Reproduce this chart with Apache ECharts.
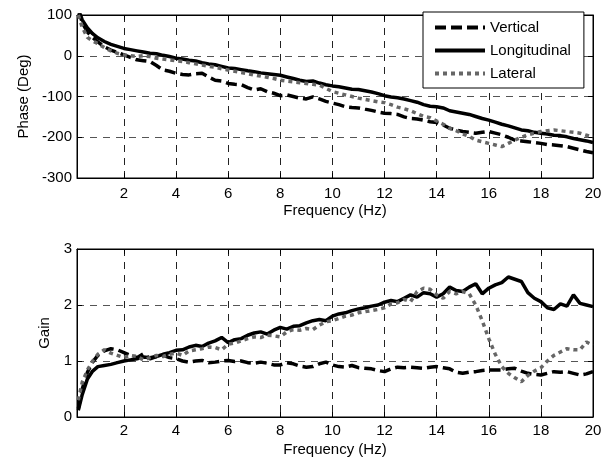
<!DOCTYPE html>
<html>
<head>
<meta charset="utf-8">
<script src="https://cdn.jsdelivr.net/npm/echarts@6/dist/echarts.min.js"></script>
<style>
  html, body { margin: 0; padding: 0; background: #fff; }
  #chart { width: 614px; height: 459px; }
</style>
</head>
<body>
<div id="chart"></div>
<script>
// frequency samples (Hz)
var freq = [0.25, 0.4, 0.6, 0.8, 1.0, 1.25, 1.5, 1.75,
  2.0, 2.25, 2.5, 2.75, 3.0, 3.25, 3.5, 3.75, 4.0, 4.25, 4.5, 4.75,
  5.0, 5.25, 5.5, 5.75, 6.0, 6.25, 6.5, 6.75, 7.0, 7.25, 7.5, 7.75,
  8.0, 8.25, 8.5, 8.75, 9.0, 9.25, 9.5, 9.75, 10.0, 10.25, 10.5, 10.75,
  11.0, 11.25, 11.5, 11.75, 12.0, 12.25, 12.5, 12.75, 13.0, 13.25, 13.5, 13.75,
  14.0, 14.25, 14.5, 14.75, 15.0, 15.25, 15.5, 15.75, 16.0, 16.25, 16.5, 16.75,
  17.0, 17.25, 17.5, 17.75, 18.0, 18.25, 18.5, 18.75, 19.0, 19.25, 19.5, 19.75,
  20.0];

// phase (deg)
var phaseVertical = [112, 82, 58, 45, 34, 22, 14, 8,
  2, -4, -10, -12, -14, -24, -35, -38, -43, -46, -47, -44,
  -43, -52, -60, -62, -68, -70, -71, -78, -84, -81, -88, -92,
  -98, -96, -100, -104, -106, -101, -106, -112, -116, -120, -125, -127,
  -128, -131, -134, -138, -141, -142, -144, -150, -154, -155, -158, -162,
  -164, -170, -178, -182, -186, -188, -190, -188, -186, -190, -194, -200,
  -207, -209, -211, -213, -215, -218, -219, -221, -223, -227, -231, -235,
  -238];
var phaseLongitudinal = [115, 88, 68, 54, 44, 35, 28, 23,
  18, 15, 12, 9, 6, 5, 1, -2, -6, -8, -11, -13,
  -17, -20, -22, -26, -30, -31, -34, -37, -39, -42, -44, -46,
  -48, -52, -56, -60, -63, -62, -67, -71, -74, -76, -79, -82,
  -83, -86, -89, -93, -98, -101, -103, -106, -110, -114, -120, -124,
  -125, -128, -135, -138, -141, -144, -149, -154, -158, -163, -168, -172,
  -177, -182, -184, -188, -190, -192, -195, -196, -199, -203, -206, -209,
  -213];
var phaseLateral = [100, 70, 45, 36, 30, 20, 12, 6,
  2, 0, -2, 0, -2, -6, -8, -10, -12, -14, -17, -20,
  -23, -26, -28, -32, -35, -38, -41, -44, -47, -50, -53, -56,
  -60, -62, -64, -66, -68, -70, -72, -80, -88, -92, -96, -100,
  -104, -107, -110, -113, -115, -120, -126, -130, -135, -142, -149, -152,
  -160, -168, -178, -184, -192, -198, -207, -211, -215, -219, -223, -215,
  -207, -200, -194, -190, -186, -184, -182, -184, -186, -188, -190, -195,
  -200];

// gain
var gainVertical = [0.15, 0.5, 0.8, 0.98, 1.1, 1.18, 1.22, 1.2,
  1.15, 1.1, 1.06, 1.13, 1.04, 1.08, 1.1, 1.06, 1.04, 1.0, 0.98, 1.0,
  1.01, 0.97, 0.98, 1.0, 1.01, 0.99, 1.0, 0.97, 0.96, 0.98, 0.96, 0.93,
  0.93, 0.97, 0.95, 0.91, 0.89, 0.9, 0.95, 0.98, 0.93, 0.9, 0.89, 0.92,
  0.88, 0.87, 0.86, 0.83, 0.81, 0.86, 0.89, 0.88, 0.89, 0.88, 0.87, 0.89,
  0.9, 0.88, 0.86, 0.8, 0.78, 0.8, 0.81, 0.83, 0.84, 0.84, 0.84, 0.86,
  0.87, 0.82, 0.78, 0.76, 0.75, 0.78, 0.81, 0.8, 0.81, 0.78, 0.75, 0.77,
  0.81];
var gainLongitudinal = [0.12, 0.4, 0.68, 0.82, 0.9, 0.92, 0.94, 0.97,
  1.0, 1.02, 1.04, 1.07, 1.06, 1.08, 1.12, 1.15, 1.19, 1.2, 1.25, 1.28,
  1.26, 1.32, 1.36, 1.42, 1.33, 1.38, 1.4, 1.46, 1.5, 1.52, 1.48, 1.55,
  1.6, 1.57, 1.62, 1.63, 1.68, 1.72, 1.74, 1.72, 1.8, 1.84, 1.86, 1.9,
  1.93, 1.95, 1.98, 2.0, 2.05, 2.08, 2.06, 2.12, 2.18, 2.14, 2.22, 2.2,
  2.14, 2.2, 2.32, 2.26, 2.24, 2.32, 2.38, 2.2, 2.3, 2.36, 2.4, 2.5,
  2.46, 2.42, 2.22, 2.12, 2.06, 1.95, 1.92, 2.02, 1.98, 2.18, 2.03, 2.0,
  1.97];
var gainLateral = [0.3, 0.62, 0.84, 1.0, 1.12, 1.2, 1.14, 1.1,
  1.06, 1.1, 1.08, 1.02, 1.06, 1.1, 1.08, 1.12, 1.14, 1.1, 1.18, 1.2,
  1.22, 1.25, 1.24, 1.2, 1.3, 1.32, 1.36, 1.4, 1.43, 1.42, 1.46, 1.45,
  1.43, 1.52, 1.56, 1.55, 1.58, 1.56, 1.64, 1.7, 1.72, 1.76, 1.8, 1.82,
  1.86, 1.88, 1.9, 1.92, 1.95, 2.02, 2.04, 2.1, 2.06, 2.24, 2.3, 2.28,
  2.18, 2.12, 2.24, 2.2, 2.24, 2.2, 2.0, 1.72, 1.4, 1.12, 0.9, 0.78,
  0.7, 0.63, 0.74, 0.82, 0.88, 1.0, 1.1, 1.16, 1.22, 1.2, 1.2, 1.34,
  1.28];

var xTicks = [2, 4, 6, 8, 10, 12, 14, 16, 18, 20];

var chart = echarts.init(document.getElementById('chart'), null, {renderer: 'canvas'});

var FONT = '"Liberation Sans", Arial, sans-serif';
var FS = 15;

function pairs(arr) {
  return freq.map(function (f, i) { return [f, arr[i]]; });
}

// x axis for a grid (main = bottom axis with labels, otherwise top ticks only)
function xAx(gridIndex, pos, main, margin, gap) {
  return {
    type: 'value', gridIndex: gridIndex, position: pos, min: 0.2, max: 20,
    name: main ? 'Frequency (Hz)' : '', nameLocation: 'middle', nameGap: gap || 0,
    nameTextStyle: {fontFamily: FONT, fontSize: FS, color: '#000'},
    axisLine: {show: true, onZero: false, lineStyle: {color: '#000', width: 1}},
    axisTick: {show: true, inside: true, length: 5, customValues: xTicks, lineStyle: {color: '#000'}},
    axisLabel: {show: main, customValues: xTicks, fontFamily: FONT, fontSize: FS, color: '#000', margin: margin || 6},
    splitLine: main ? {show: true, lineStyle: {color: '#222', type: [7, 6], width: 1}} : {show: false}
  };
}

function yAx(gridIndex, pos, main, min, max, interval, name, gap) {
  return {
    type: 'value', gridIndex: gridIndex, position: pos, min: min, max: max, interval: interval,
    name: main ? name : '', nameLocation: 'middle', nameGap: gap,
    nameTextStyle: {fontFamily: FONT, fontSize: FS, color: '#000'},
    axisLine: {show: true, onZero: false, lineStyle: {color: '#000', width: 1}},
    axisTick: {show: true, inside: true, length: 5, lineStyle: {color: '#000'}},
    axisLabel: {show: main, fontFamily: FONT, fontSize: FS, color: '#000', margin: 5},
    splitLine: main ? {show: true, showMinLine: false, showMaxLine: false,
      lineStyle: {color: '#555', type: [7, 6], width: 1}} : {show: false}
  };
}

var styles = {
  Vertical: {color: '#000', width: 3.5, type: [11, 5]},
  Longitudinal: {color: '#000', width: 3.5, type: 'solid'},
  Lateral: {color: '#666', width: 3.5, type: [4, 4]}
};

function line(name, data, xi, yi) {
  return {
    name: name, type: 'line', xAxisIndex: xi, yAxisIndex: yi,
    data: pairs(data), showSymbol: false, symbol: 'none', smooth: false,
    lineStyle: styles[name], itemStyle: {color: styles[name].color},
    animation: false, clip: true
  };
}

var option = {
  backgroundColor: '#fff',
  animation: false,
  grid: [
    {left: 77, top: 15, width: 516, height: 163, show: true, borderColor: '#000', borderWidth: 1,
      outerBoundsMode: 'none', containLabel: false},
    {left: 77, top: 249, width: 516, height: 168, show: true, borderColor: '#000', borderWidth: 1,
      outerBoundsMode: 'none', containLabel: false}
  ],
  legend: {
    left: 423, top: 12, orient: 'vertical',
    data: ['Vertical', 'Longitudinal', 'Lateral'],
    itemWidth: 50, itemHeight: 14, itemGap: 8,
    padding: [8, 13, 7, 10],
    backgroundColor: '#fff', borderColor: '#000', borderWidth: 1, borderRadius: 0,
    itemStyle: {opacity: 0},
    lineStyle: {width: 4},
    textStyle: {fontFamily: FONT, fontSize: FS, color: '#000'}
  },
  xAxis: [xAx(0, 'bottom', true, 8, 25), xAx(1, 'bottom', true, 6, 25), xAx(0, 'top', false), xAx(1, 'top', false)],
  yAxis: [
    yAx(0, 'left', true, -300, 100, 100, 'Phase (Deg)', 44),
    yAx(1, 'left', true, 0, 3, 1, 'Gain', 24),
    yAx(0, 'right', false, -300, 100, 100, '', 0),
    yAx(1, 'right', false, 0, 3, 1, '', 0)
  ],
  series: [
    line('Vertical', phaseVertical, 0, 0),
    line('Longitudinal', phaseLongitudinal, 0, 0),
    line('Lateral', phaseLateral, 0, 0),
    line('Vertical', gainVertical, 1, 1),
    line('Longitudinal', gainLongitudinal, 1, 1),
    line('Lateral', gainLateral, 1, 1)
  ]
};

chart.setOption(option);
</script>
</body>
</html>
